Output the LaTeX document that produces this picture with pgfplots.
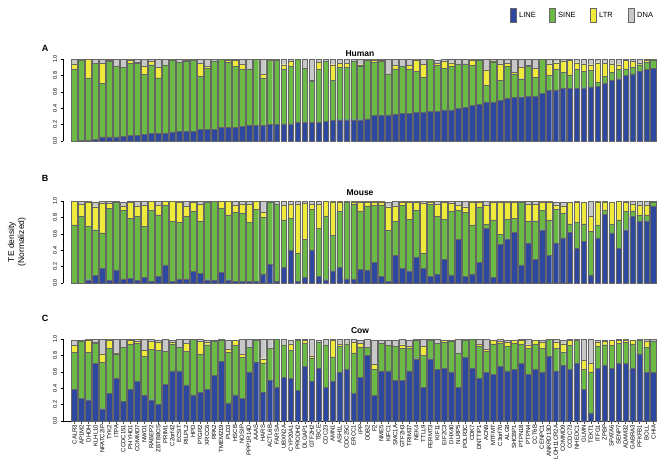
\documentclass[border=0pt]{standalone}
\usepackage{fontspec}
\setmainfont{Liberation Sans}
\usepackage{pgfplots}
\usepackage{pgfplotstable}
\pgfplotsset{compat=1.18}

\definecolor{lineC}{RGB}{45,72,158}
\definecolor{sineC}{RGB}{108,186,70}
\definecolor{ltrC}{RGB}{240,234,58}
\definecolor{dnaC}{RGB}{200,200,200}

% Human
\pgfplotstableread{
x line sine ltr dna
1 0.00 0.88 0.06 0.06
2 0.01 0.98 0.00 0.01
3 0.01 0.76 0.23 0.00
4 0.02 0.93 0.00 0.05
5 0.05 0.65 0.25 0.05
6 0.05 0.92 0.01 0.02
7 0.05 0.86 0.00 0.09
8 0.06 0.84 0.00 0.10
9 0.07 0.88 0.04 0.01
10 0.07 0.88 0.01 0.04
11 0.085 0.73 0.10 0.085
12 0.09 0.84 0.04 0.03
13 0.09 0.68 0.13 0.10
14 0.10 0.83 0.00 0.07
15 0.11 0.88 0.00 0.01
16 0.12 0.84 0.00 0.04
17 0.12 0.85 0.02 0.01
18 0.12 0.87 0.00 0.01
19 0.14 0.65 0.16 0.05
20 0.14 0.75 0.02 0.09
21 0.14 0.83 0.00 0.03
22 0.17 0.83 0.00 0.00
23 0.17 0.79 0.02 0.02
24 0.17 0.74 0.07 0.02
25 0.18 0.70 0.06 0.06
26 0.19 0.69 0.00 0.12
27 0.19 0.81 0.00 0.00
28 0.19 0.58 0.05 0.18
29 0.20 0.79 0.00 0.01
30 0.20 0.79 0.00 0.01
31 0.21 0.67 0.05 0.07
32 0.21 0.70 0.06 0.03
33 0.23 0.77 0.00 0.00
34 0.23 0.66 0.00 0.11
35 0.23 0.50 0.01 0.26
36 0.23 0.64 0.09 0.04
37 0.24 0.73 0.00 0.03
38 0.25 0.49 0.19 0.07
39 0.26 0.64 0.05 0.05
40 0.26 0.64 0.05 0.05
41 0.26 0.71 0.00 0.03
42 0.26 0.65 0.02 0.07
43 0.27 0.72 0.00 0.01
44 0.31 0.65 0.03 0.01
45 0.31 0.66 0.01 0.02
46 0.32 0.50 0.00 0.18
47 0.33 0.55 0.04 0.08
48 0.34 0.57 0.00 0.09
49 0.34 0.54 0.04 0.08
50 0.35 0.50 0.14 0.01
51 0.355 0.42 0.16 0.06
52 0.36 0.64 0.00 0.00
53 0.36 0.56 0.03 0.04
54 0.38 0.51 0.08 0.03
55 0.38 0.53 0.045 0.045
56 0.40 0.54 0.00 0.06
57 0.41 0.53 0.00 0.06
58 0.435 0.49 0.065 0.01
59 0.45 0.54 0.00 0.01
60 0.476 0.20 0.19 0.13
61 0.476 0.49 0.01 0.02
62 0.50 0.24 0.20 0.06
63 0.52 0.39 0.04 0.05
64 0.53 0.29 0.02 0.16
65 0.54 0.22 0.14 0.10
66 0.545 0.37 0.01 0.075
67 0.55 0.23 0.11 0.11
68 0.58 0.42 0.00 0.00
69 0.62 0.18 0.14 0.06
70 0.625 0.25 0.08 0.045
71 0.64 0.20 0.13 0.03
72 0.645 0.16 0.18 0.015
73 0.645 0.23 0.08 0.045
74 0.65 0.20 0.09 0.06
75 0.66 0.20 0.07 0.07
76 0.665 0.05 0.24 0.045
77 0.70 0.09 0.16 0.05
78 0.74 0.10 0.10 0.06
79 0.76 0.11 0.06 0.07
80 0.80 0.08 0.10 0.02
81 0.82 0.08 0.07 0.03
82 0.85 0.08 0.02 0.05
83 0.87 0.09 0.02 0.02
84 0.89 0.10 0.01 0.00
}\human

% Mouse
\pgfplotstableread{
x line sine ltr dna
1 0.00 0.71 0.29 0.00
2 0.00 0.81 0.15 0.04
3 0.04 0.65 0.30 0.01
4 0.09 0.56 0.28 0.06
5 0.18 0.43 0.36 0.03
6 0.03 0.88 0.06 0.03
7 0.16 0.82 0.02 0.00
8 0.05 0.84 0.05 0.05
9 0.06 0.73 0.19 0.02
10 0.03 0.78 0.13 0.06
11 0.07 0.62 0.26 0.05
12 0.02 0.87 0.11 0.00
13 0.08 0.75 0.12 0.05
14 0.22 0.73 0.05 0.00
15 0.02 0.73 0.25 0.00
16 0.05 0.69 0.25 0.01
17 0.05 0.76 0.13 0.06
18 0.14 0.73 0.11 0.02
19 0.12 0.63 0.21 0.04
20 0.04 0.95 0.01 0.00
21 0.03 0.97 0.00 0.00
22 0.13 0.78 0.09 0.00
23 0.04 0.79 0.17 0.00
24 0.02 0.84 0.09 0.05
25 0.02 0.83 0.11 0.04
26 0.02 0.72 0.22 0.04
27 0.02 0.88 0.10 0.00
28 0.11 0.69 0.06 0.14
29 0.23 0.75 0.02 0.00
30 0.02 0.94 0.00 0.04
31 0.19 0.58 0.18 0.05
32 0.40 0.39 0.17 0.04
33 0.02 0.34 0.60 0.04
34 0.07 0.46 0.44 0.03
35 0.40 0.50 0.06 0.04
36 0.08 0.59 0.29 0.04
37 0.04 0.78 0.18 0.00
38 0.15 0.43 0.41 0.01
39 0.19 0.68 0.12 0.01
40 0.05 0.94 0.00 0.01
41 0.05 0.91 0.03 0.01
42 0.17 0.71 0.11 0.01
43 0.16 0.78 0.05 0.01
44 0.25 0.70 0.04 0.01
45 0.08 0.87 0.04 0.01
46 0.02 0.62 0.29 0.06
47 0.34 0.41 0.19 0.06
48 0.18 0.77 0.04 0.01
49 0.15 0.63 0.21 0.01
50 0.32 0.57 0.10 0.01
51 0.18 0.18 0.61 0.03
52 0.08 0.88 0.03 0.01
53 0.11 0.70 0.15 0.04
54 0.29 0.49 0.20 0.02
55 0.10 0.77 0.10 0.03
56 0.53 0.36 0.06 0.05
57 0.08 0.78 0.07 0.07
58 0.11 0.60 0.28 0.01
59 0.25 0.67 0.07 0.01
60 0.67 0.05 0.23 0.05
61 0.07 0.70 0.22 0.01
62 0.47 0.12 0.40 0.01
63 0.54 0.24 0.21 0.01
64 0.62 0.17 0.20 0.01
65 0.22 0.77 0.00 0.01
66 0.49 0.26 0.21 0.04
67 0.29 0.47 0.20 0.04
68 0.65 0.24 0.10 0.01
69 0.34 0.43 0.22 0.01
70 0.49 0.41 0.05 0.04
71 0.55 0.30 0.09 0.05
72 0.62 0.10 0.26 0.01
73 0.42 0.32 0.25 0.01
74 0.51 0.21 0.26 0.01
75 0.10 0.53 0.18 0.19
76 0.55 0.16 0.28 0.01
77 0.84 0.05 0.10 0.01
78 0.61 0.11 0.26 0.01
79 0.42 0.35 0.23 0.00
80 0.65 0.22 0.12 0.01
81 0.81 0.07 0.08 0.04
82 0.75 0.08 0.12 0.05
83 0.76 0.07 0.12 0.05
84 0.94 0.05 0.01 0.00
}\mouse

% Cow
\pgfplotstableread{
x line sine ltr dna
1 0.39 0.45 0.08 0.07
2 0.28 0.69 0.00 0.02
3 0.26 0.58 0.15 0.01
4 0.70 0.25 0.01 0.04
5 0.15 0.57 0.10 0.18
6 0.34 0.55 0.10 0.01
7 0.52 0.30 0.01 0.17
8 0.24 0.66 0.00 0.10
9 0.39 0.55 0.04 0.02
10 0.48 0.47 0.02 0.03
11 0.32 0.47 0.07 0.14
12 0.26 0.61 0.10 0.03
13 0.20 0.66 0.10 0.03
14 0.45 0.40 0.00 0.15
15 0.61 0.33 0.02 0.03
16 0.61 0.29 0.00 0.10
17 0.44 0.41 0.10 0.05
18 0.32 0.68 0.00 0.00
19 0.35 0.47 0.15 0.03
20 0.39 0.54 0.03 0.03
21 0.56 0.41 0.00 0.02
22 0.73 0.26 0.01 0.00
23 0.22 0.62 0.03 0.12
24 0.32 0.60 0.07 0.00
25 0.28 0.50 0.03 0.19
26 0.60 0.30 0.00 0.10
27 0.72 0.27 0.00 0.01
28 0.35 0.36 0.05 0.24
29 0.50 0.39 0.00 0.11
30 0.41 0.59 0.00 0.00
31 0.53 0.40 0.00 0.07
32 0.52 0.34 0.08 0.05
33 0.37 0.61 0.00 0.02
34 0.67 0.28 0.03 0.02
35 0.49 0.28 0.02 0.21
36 0.64 0.32 0.00 0.03
37 0.41 0.52 0.00 0.07
38 0.48 0.30 0.20 0.02
39 0.59 0.32 0.03 0.06
40 0.63 0.31 0.00 0.06
41 0.34 0.49 0.13 0.04
42 0.53 0.37 0.05 0.04
43 0.80 0.10 0.00 0.10
44 0.31 0.32 0.06 0.30
45 0.61 0.34 0.00 0.04
46 0.61 0.31 0.00 0.07
47 0.50 0.41 0.00 0.08
48 0.50 0.39 0.04 0.07
49 0.61 0.28 0.02 0.08
50 0.76 0.23 0.00 0.01
51 0.41 0.39 0.11 0.09
52 0.76 0.23 0.00 0.01
53 0.63 0.32 0.00 0.05
54 0.64 0.32 0.02 0.01
55 0.60 0.37 0.00 0.02
56 0.41 0.42 0.00 0.17
57 0.78 0.21 0.00 0.01
58 0.64 0.36 0.00 0.00
59 0.52 0.39 0.03 0.06
60 0.59 0.26 0.03 0.12
61 0.57 0.37 0.04 0.01
62 0.67 0.28 0.02 0.03
63 0.61 0.30 0.05 0.03
64 0.63 0.32 0.03 0.01
65 0.70 0.24 0.04 0.02
66 0.57 0.32 0.04 0.07
67 0.63 0.31 0.04 0.01
68 0.60 0.29 0.07 0.03
69 0.79 0.21 0.00 0.00
70 0.61 0.28 0.07 0.04
71 0.68 0.16 0.10 0.05
72 0.63 0.29 0.06 0.02
73 0.70 0.29 0.01 0.00
74 0.39 0.24 0.11 0.26
75 0.10 0.50 0.10 0.30
76 0.64 0.27 0.05 0.03
77 0.68 0.25 0.04 0.02
78 0.64 0.28 0.06 0.01
79 0.70 0.25 0.03 0.02
80 0.70 0.26 0.03 0.01
81 0.64 0.30 0.04 0.01
82 0.82 0.17 0.00 0.01
83 0.59 0.31 0.07 0.03
84 0.59 0.38 0.00 0.03
}\cow

\pgfplotsset{
  panel/.style={
    scale only axis, width=594pt, height=82pt,
    xmin=-0.65, xmax=84.5, ymin=0, ymax=1,
    ybar stacked, bar width=0.82,
    axis y line*=left,
    ytick={0,0.2,0.4,0.6,0.8,1},
    yticklabels={0.0,0.2,0.4,0.6,0.8,1.0},
    yticklabel style={rotate=90, anchor=south, font=\fontsize{5.5}{6}\selectfont},
    tick align=outside, major tick length=2.5pt,
    every tick/.style={black, line width=0.4pt},
    axis line style={line width=0.4pt},
    /pgf/number format/assume math mode=true,
    title style={font=\bfseries\fontsize{8.5}{9}\selectfont, anchor=south, yshift=-4pt},
    clip=false,
  },
  bars/.style={draw=black!60, line width=0.35pt},
}

\begin{document}
\begin{tikzpicture}
\useasboundingbox (0pt,0pt) rectangle (661pt,-467pt);

% Legend
\begin{scope}[font=\fontsize{7.5}{8}\selectfont]
\draw[fill=lineC, draw=black!60] (510pt,-8pt) rectangle (516pt,-22pt);
\node[anchor=west, inner sep=1pt] at (518pt,-15pt) {LINE};
\draw[fill=sineC, draw=black!60] (549pt,-8pt) rectangle (555pt,-22pt);
\node[anchor=west, inner sep=1pt] at (557pt,-15pt) {SINE};
\draw[fill=ltrC, draw=black!60] (590pt,-8pt) rectangle (596pt,-22pt);
\node[anchor=west, inner sep=1pt] at (598pt,-15pt) {LTR};
\draw[fill=dnaC, draw=black!60] (628pt,-8pt) rectangle (634pt,-22pt);
\node[anchor=west, inner sep=1pt] at (636pt,-15pt) {DNA};
\end{scope}

% panel letters and y label
\node[font=\bfseries\fontsize{9}{10}\selectfont] at (45pt,-48pt) {A};
\node[font=\bfseries\fontsize{9}{10}\selectfont] at (45pt,-178pt) {B};
\node[font=\bfseries\fontsize{9}{10}\selectfont] at (45pt,-318pt) {C};
\node[rotate=90, align=center, font=\fontsize{8.5}{10}\selectfont] at (17pt,-242pt) {TE density\\(Normalized)};

\begin{axis}[panel, axis x line=none, at={(63pt,-141pt)}, anchor=south west, title={Human},
  title style={yshift=-3pt}]
\addplot[bars, fill=lineC] table[x=x, y=line] {\human};
\addplot[bars, fill=sineC] table[x=x, y=sine] {\human};
\addplot[bars, fill=ltrC] table[x=x, y=ltr] {\human};
\addplot[bars, fill=dnaC] table[x=x, y=dna] {\human};
\end{axis}

\begin{axis}[panel, axis x line=none, at={(63pt,-283pt)}, anchor=south west, title={Mouse}]
\addplot[bars, fill=lineC] table[x=x, y=line] {\mouse};
\addplot[bars, fill=sineC] table[x=x, y=sine] {\mouse};
\addplot[bars, fill=ltrC] table[x=x, y=ltr] {\mouse};
\addplot[bars, fill=dnaC] table[x=x, y=dna] {\mouse};
\end{axis}

\begin{axis}[panel, at={(63pt,-421pt)}, anchor=south west, title={Cow},
  axis x line*=bottom,
  xtick={1,...,84},
  xticklabels={CALR3,AP1M2,DHDH,KLHL10,NFATC2IP,TYK2,ITPA,CCDC151,PHYHD1,COMMD7,NWD1,RABEP2,ZBTB8OS,PRIM1,C2orf42,ECSIT,RILPL2,HPD,PTGR2,XRCC6,RPA2,TMEM219,PLD3,HSCB,NOSIP,PPP1R14D,AAAS,HARS,ACTL6B,FARSA,UBXN2A,CYP20A1,PRODH2,DLGAP1,GTF2H2,TBCE,CDC23,AMN1,ASH1L,CDC25C,ERCC1,IPP,DDB2,F2,NME5,KIFC1,SMC1A,GTF2H3,TRIM37,NEK4,TTLL9,FERMT3,KIF11,EIF2C3,DHX40,NLRP5,POLR3C,CDK7,DNTTIP1,ACN9,MTFMT,C3orf70,ALG8,SHCBP1,PTPN18,PTPN4,CCT6B,CENPC1,ANKRD13D,LOH11CR2A,COMMD9,CCDC73,NHEDC1,GLMN,TEKT1,ITFG1,ZPBP,SPATA6,SENP7,ADAM32,GABRA3,PFKFB1,BOLL,CHIA},
  xticklabel style={rotate=90, anchor=east, font=\fontsize{6}{6}\selectfont, inner sep=1pt},
  x tick style={black!70},
]
\addplot[bars, fill=lineC] table[x=x, y=line] {\cow};
\addplot[bars, fill=sineC] table[x=x, y=sine] {\cow};
\addplot[bars, fill=ltrC] table[x=x, y=ltr] {\cow};
\addplot[bars, fill=dnaC] table[x=x, y=dna] {\cow};
\end{axis}
\end{tikzpicture}
\end{document}
